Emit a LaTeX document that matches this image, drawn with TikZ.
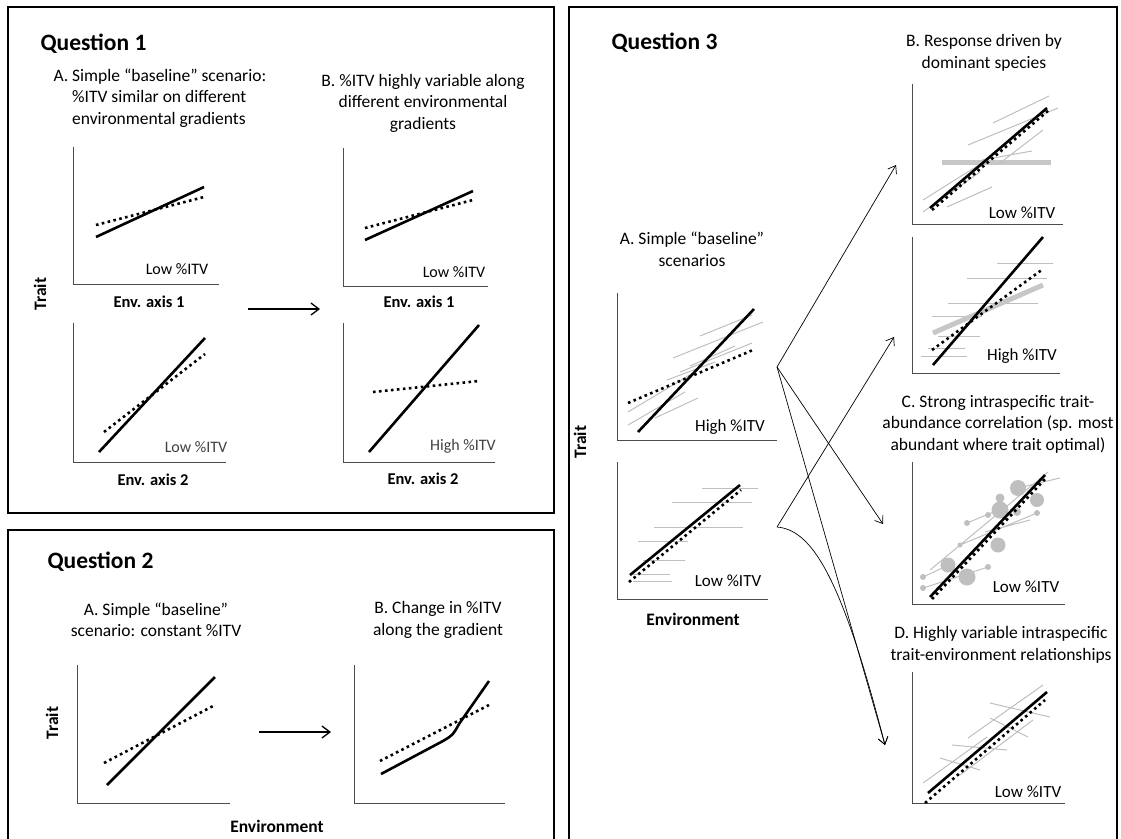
\documentclass[tikz,border=0pt]{standalone}
\usepackage{fontspec}
\setmainfont{Carlito}
\usetikzlibrary{arrows.meta,positioning}

\newcommand{\plotframe}[4]{\draw[axis] (#1,#2) -- (#1,#4) -- (#3,#4);}

\tikzset{
  box/.style={line width=1.6pt},
  axis/.style={draw=black!70,line width=1pt},
  trend/.style={line width=2.6pt},
  dots/.style={line width=2.6pt,dash pattern=on 2.6pt off 3.4pt},
  sp/.style={draw=black!25,line width=1pt},
  spwide/.style={draw=black!22,line width=5pt},
  blob/.style={fill=black!25},
  ttl/.style={font=\fontsize{17.5}{21.5}\selectfont,align=center},
  lbl/.style={font=\fontsize{16}{19}\selectfont},
  lblr/.style={font=\fontsize{17}{20}\selectfont},
  axlbl/.style={font=\fontsize{16.5}{19}\selectfont\bfseries},
  biglbl/.style={font=\fontsize{17.5}{20}\selectfont\bfseries},
  qhead/.style={font=\fontsize{23.5}{28}\selectfont\bfseries,anchor=west},
  link/.style={-{Straight Barb[length=7pt,width=10pt]},line width=0.7pt},
  jump/.style={-{Straight Barb[length=8pt,width=12pt]},line width=1.3pt}
}

\begin{document}
\begin{tikzpicture}[x=1pt,y=-1pt]
\useasboundingbox (0,0) rectangle (1121,838);

% boxes
\draw[box] (8,7) rectangle (554,513);
\draw[box] (8,530) rectangle (554,850);
\draw[box] (569,7) rectangle (1117,850);

% ---- Question 1
\node[qhead] (q1) at (37,44) {Question 1};
\node[ttl,align=left,anchor=west] (q1a) at (50,98) {A. Simple “baseline” scenario:\\\hphantom{A. }\%ITV similar on different\\\hphantom{A. }environmental gradients};
\node[ttl] (q1b) at (423,103) {B. \%ITV highly variable along\\different environmental\\gradients};

\plotframe{73}{147}{219}{284}
\draw[trend] (96,237) -- (204,187);
\draw[dots] (96,225) -- (204,197);
\node[lbl] (lo1) at (177,269) {Low \%ITV};

\plotframe{343}{148}{488}{286}
\draw[trend] (365,240) -- (473,191);
\draw[dots] (365,228) -- (473,200);
\node[lbl] (lo2) at (454,272) {Low \%ITV};

\node[axlbl] (env1a) at (149,302) {Env. axis 1};
\node[axlbl] (env1b) at (419,302) {Env. axis 1};
\node[biglbl,rotate=90] (trait1) at (40,294) {Trait};

\coordinate (j1s) at (248,309);
\coordinate (j1e) at (320,309);
\draw[jump] (j1s) -- (j1e);

\plotframe{73}{323}{226}{462}
\draw[trend] (99,452) -- (205,338);
\draw[dots] (104,432) -- (205,354);
\node[lbl,black!75] (lo3) at (196,447) {Low \%ITV};

\plotframe{343}{323}{495}{462}
\draw[trend] (369,452) -- (479,325);
\draw[dots] (373,392) -- (479,381);
\node[lbl,black!75] (hi1) at (463,446) {High \%ITV};

\node[axlbl] (env2a) at (153,480) {Env. axis 2};
\node[axlbl] (env2b) at (423,479) {Env. axis 2};

% ---- Question 2
\node[qhead] (q2) at (44,562) {Question 2};
\node[ttl] (q2a) at (156,620) {A. Simple “baseline”\\scenario: constant \%ITV};
\node[ttl] (q2b) at (438,620) {B. Change in \%ITV\\along the gradient};

\plotframe{77}{665}{230}{803}
\draw[trend] (107,785) -- (215,677);
\draw[dots] (104,763) -- (215,705);

\coordinate (j2s) at (259,732);
\coordinate (j2e) at (331,732);
\draw[jump] (j2s) -- (j2e);

\plotframe{354}{665}{505}{803}
\draw[trend] (381,774) -- (443,741) .. controls (453,735) .. (459,724) -- (489,681);
\draw[dots] (380,761) -- (489,705);

\node[biglbl,rotate=90] (trait2) at (52,723) {Trait};
\node[biglbl] (envq2) at (277,826) {Environment};

% ---- Question 3
\node[qhead] (q3) at (608,43) {Question 3};
\node[ttl] (q3a) at (692,249) {A. Simple “baseline”\\scenarios};
\node[ttl] (q3b) at (984,53) {B. Response driven by\\dominant species};
\node[ttl] (q3c) at (998,424) {C. Strong intraspecific trait-\\abundance correlation (sp. most\\abundant where trait optimal)};
\node[ttl] (q3d) at (1001,645) {D. Highly variable intraspecific\\trait-environment relationships};
\node[biglbl,rotate=90] (trait3) at (580,442) {Trait};
\node[biglbl] (envq3) at (693,619) {Environment};

% A, high %ITV
\plotframe{617}{293}{777}{440}
\draw[sp] (700,336) -- (752,315) (673,358) -- (763,322) (680,372) -- (752,343)
  (628,412) -- (698,370) (628,425) -- (685,392) (655,418) -- (698,398)
  (667,380) -- (715,362) (690,366) -- (735,346);
\draw[trend] (638,432) -- (754,309);
\draw[dots] (628,403) -- (753,350);
\node[lblr] (hi2) at (730,427) {High \%ITV};

% A, low %ITV
\plotframe{617}{462}{768}{599}
\draw[sp] (702,488) -- (758,488) (672,502) -- (752,502) (654,527) -- (743,527)
  (638,541) -- (688,541) (643,560) -- (685,560) (633,574) -- (670,574) (633,581) -- (672,581);
\draw[trend] (630,575) -- (740,485);
\draw[dots] (629,582) -- (741,490);
\node[lblr] (lo4) at (728,581) {Low \%ITV};

% B, low %ITV
\plotframe{912}{84}{1063}{224}
\draw[spwide] (942,162) -- (1051,162);
\draw[sp] (993,123) -- (1049,96) (968,145) -- (1058,108) (982,160) -- (1032,151)
  (1000,163) -- (1043,130) (923,200) -- (990,158) (923,212) -- (980,172) (947,207) -- (992,187);
\draw[trend] (930,208) -- (1047,108);
\draw[dots] (932,210) -- (1049,110);
\node[lblr] (lo5) at (1022,213) {Low \%ITV};

% B, high %ITV
\plotframe{912}{237}{1060}{373}
\draw[sp] (997,263) -- (1053,263) (967,278) -- (1047,278) (948,303) -- (1038,303)
  (932,316) -- (982,316) (938,336) -- (980,336) (928,348) -- (965,348) (921,356) -- (967,356);
\draw[spwide] (933,333) -- (1043,285);
\draw[dots] (932,350) -- (1043,269);
\draw[trend] (933,365) -- (1043,237);
\node[lblr] (hi3) at (1022,356) {High \%ITV};

% C
\plotframe{912}{462}{1065}{604}
\draw[sp] (923,588) -- (988,567) (923,577) -- (955,562) (967,523) -- (1003,508)
  (960,545) -- (1037,513) (1018,488) -- (1060,478) (930,570) -- (1048,472)
  (985,532) -- (1030,520);
\fill[blob] (1018,488) circle (8) (1037,500) circle (7) (1000,510) circle (8.5)
  (998,545) circle (7.5) (948,565) circle (7.5) (967,577) circle (8.5)
  (1000,498) circle (4.5) (1017,512) circle (4);
\fill[blob] (967,523) circle (3) (988,515) circle (3) (923,577) circle (3)
  (923,588) circle (3) (988,567) circle (3) (1037,513) circle (3) (960,545) circle (2.5);
\draw[trend] (930,597) -- (1045,475);
\draw[dots] (932,599) -- (1047,477);
\node[lblr] (lo6) at (1026,587) {Low \%ITV};

% D
\plotframe{912}{672}{1065}{803}
\draw[sp] (990,703) -- (1050,717) (990,718) -- (1028,737) (968,738) -- (1043,685)
  (952,745) -- (1007,750) (940,758) -- (980,770) (923,783) -- (987,737) (960,775) -- (1033,720);
\draw[trend] (928,793) -- (1047,692);
\draw[dots] (925,803) -- (1045,700);
\node[lblr] (lo7) at (1028,792) {Low \%ITV};

% links
\coordinate (fanA) at (777,367);
\coordinate (fanB) at (777,527);
\coordinate (tipB1) at (896,165);
\coordinate (tipB2) at (894,337);
\coordinate (tipC) at (883,524);
\coordinate (tipD) at (885,745);
\draw[link] (fanA) -- (tipB1);
\draw[link] (fanA) -- (tipC);
\draw[link] (fanA) -- (tipD);
\draw[link] (fanB) -- (tipB2);
\draw[link] (fanB) .. controls (810,530) and (840,570) .. (tipD);
\end{tikzpicture}
\end{document}
